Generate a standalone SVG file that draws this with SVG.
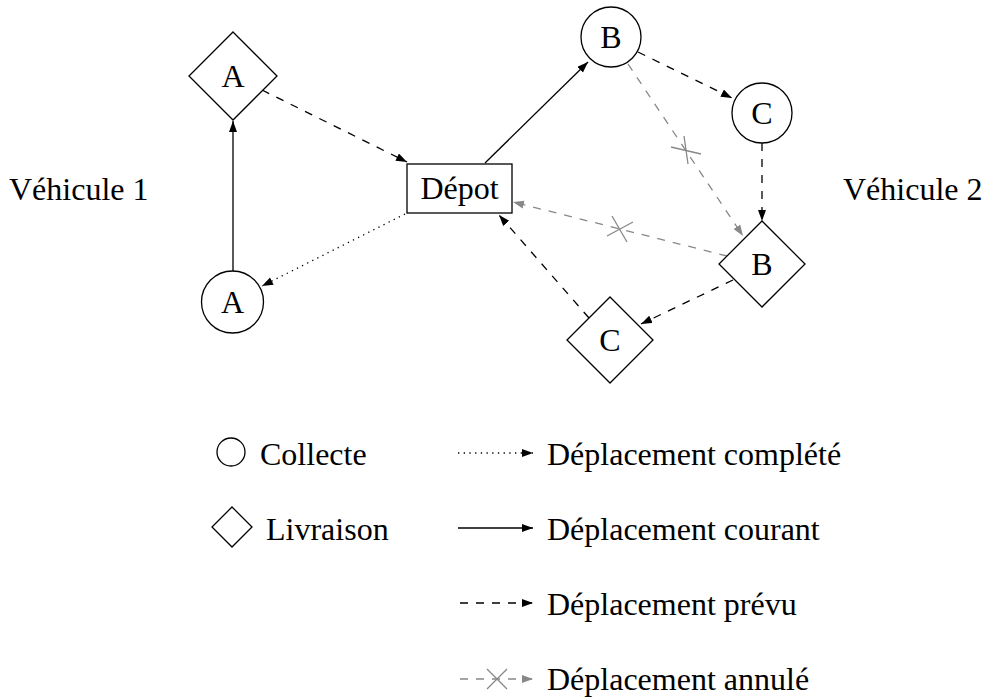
<svg xmlns="http://www.w3.org/2000/svg" width="988" height="698" viewBox="0 0 988 698">
<style>
text{font-family:"Liberation Serif","Times New Roman",serif;font-size:32px;fill:#000}
.c{text-anchor:middle}
.n{fill:#fff;stroke:#000;stroke-width:1.3}
.e{fill:none;stroke:#000;stroke-width:1.3}
.d{stroke-dasharray:8,8}
.o{stroke-dasharray:1.3,4.4}
.g{stroke:#888}
</style>
<defs>
<marker id="ab" markerUnits="userSpaceOnUse" markerWidth="12" markerHeight="9" refX="11" refY="4" orient="auto"><path d="M0,0 L11,4 L0,8 z" fill="#000"/></marker>
<marker id="ag" markerUnits="userSpaceOnUse" markerWidth="12" markerHeight="9" refX="11" refY="4" orient="auto"><path d="M0,0 L11,4 L0,8 z" fill="#888"/></marker>
</defs>
<rect width="988" height="698" fill="#fff"/>
<text x="9" y="200">Véhicule 1</text>
<text x="843" y="200">Véhicule 2</text>
<g id="connectors">
<line class="e" x1="233" y1="271" x2="233" y2="121" marker-end="url(#ab)"/>
<line class="e d" x1="262" y1="90" x2="407" y2="162" marker-end="url(#ab)"/>
<line class="e" x1="485" y1="163" x2="588" y2="62" marker-end="url(#ab)"/>
<line class="e d" x1="638" y1="52" x2="732" y2="98" marker-end="url(#ab)"/>
<line class="e d" x1="762" y1="143" x2="762" y2="221" marker-end="url(#ab)"/>
<line class="e d g" x1="628" y1="64" x2="743" y2="236" marker-end="url(#ag)"/>
<line class="e d g" x1="727" y1="256" x2="513" y2="202" marker-end="url(#ag)"/>
<line class="e d" x1="733" y1="280" x2="641" y2="324" marker-end="url(#ab)"/>
<line class="e d" x1="589" y1="318" x2="499" y2="215" marker-end="url(#ab)"/>
<line class="e o" x1="405" y1="214" x2="262" y2="286" marker-end="url(#ab)"/>
<g class="e g" stroke-width="1.6">
<line x1="671" y1="147" x2="701" y2="154"/><line x1="684" y1="136" x2="688" y2="164"/>
<line x1="607" y1="236" x2="633" y2="222"/><line x1="612" y1="216" x2="627" y2="242"/>
</g>
</g>
<g id="nodeA1"><polygon class="n" points="233,32 277,76 233,120 189,76"/><text class="c" x="233" y="87">A</text></g>
<g id="nodeA2"><circle class="n" cx="232.5" cy="302" r="31"/><text class="c" x="232.5" y="313">A</text></g>
<g id="depot"><rect class="n" x="407" y="164" width="105" height="49"/><text class="c" x="459.5" y="199">Dépot</text></g>
<g id="nodeB1"><circle class="n" cx="611" cy="37" r="30"/><text class="c" x="611" y="48">B</text></g>
<g id="nodeC1"><circle class="n" cx="762" cy="113" r="30"/><text class="c" x="762" y="124">C</text></g>
<g id="nodeB2"><polygon class="n" points="762,221 805,264 762,307 719,264"/><text class="c" x="762" y="275">B</text></g>
<g id="nodeC2"><polygon class="n" points="610,297 653,340 610,383 567,340"/><text class="c" x="610" y="351">C</text></g>
<g id="legend">
<circle class="n" cx="231" cy="452" r="14"/><text x="260" y="465">Collecte</text>
<polygon class="n" points="232,507 252,527 232,547 212,527"/><text x="266" y="540">Livraison</text>
<line class="e o" x1="458" y1="453" x2="533" y2="453" marker-end="url(#ab)"/><text x="547" y="465">Déplacement complété</text>
<line class="e" x1="458" y1="528" x2="533" y2="528" marker-end="url(#ab)"/><text x="547" y="540">Déplacement courant</text>
<line class="e d" x1="460" y1="603" x2="533" y2="603" marker-end="url(#ab)"/><text x="547" y="615">Déplacement prévu</text>
<line class="e d g" x1="460" y1="679" x2="533" y2="679" marker-end="url(#ag)"/>
<g class="e g" stroke-width="1.6"><line x1="487" y1="669" x2="507" y2="689"/><line x1="487" y1="689" x2="507" y2="669"/></g>
<text x="547" y="690">Déplacement annulé</text>
</g>
</svg>
